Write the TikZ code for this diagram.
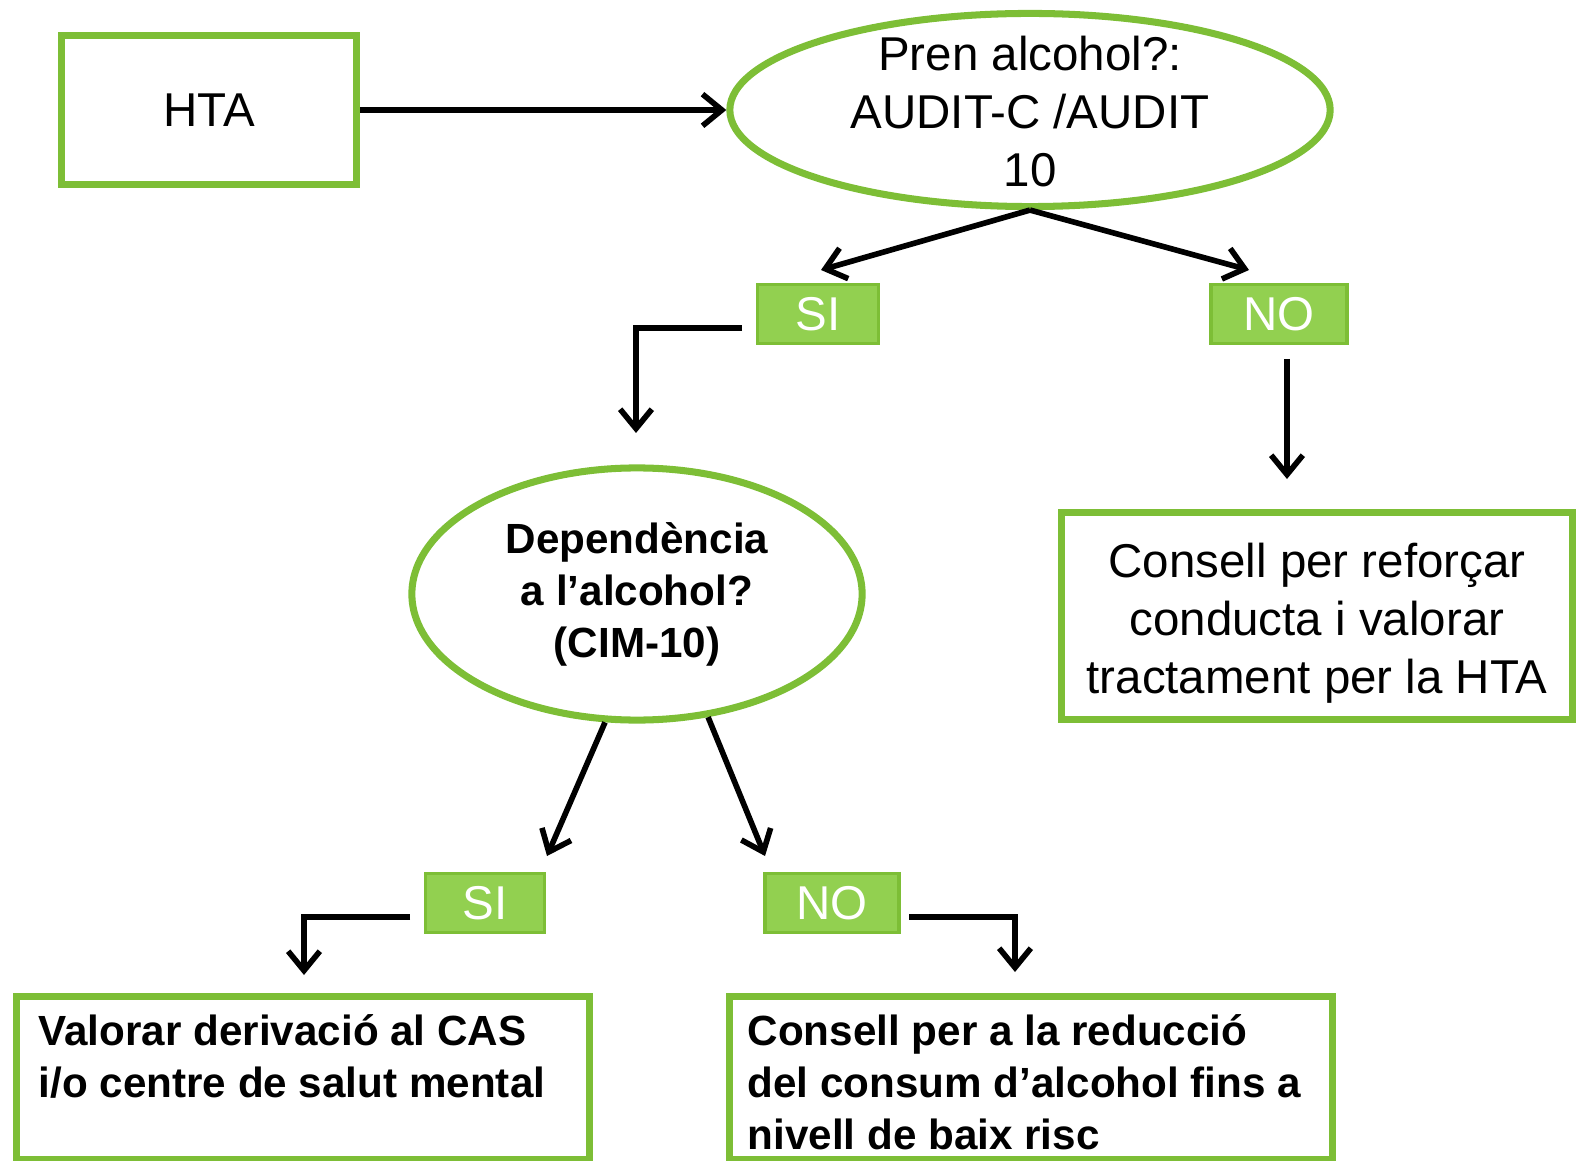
\documentclass[tikz,border=0pt]{standalone}
\usepackage{fontspec}
\setmainfont{Liberation Sans}
\usetikzlibrary{arrows.meta}
\usetikzlibrary{shapes.geometric}
\usetikzlibrary{positioning}
\definecolor{leafgreen}{HTML}{7DBE36}
\definecolor{tagfill}{HTML}{92D050}

\begin{document}
\begin{tikzpicture}[x=0.01cm, y=-0.01cm,
    box/.style={draw=leafgreen, line width=2pt, fill=white, inner sep=0pt},
    decision/.style={ellipse, draw=leafgreen, line width=2pt, inner sep=0pt},
    tag/.style={draw=leafgreen, line width=1pt, fill=tagfill, text=white, minimum height=0.59cm, inner sep=0pt},
    arr/.style={->, >={Straight Barb[length=5.5pt,width=9pt]}, line width=1.6pt},
    regular/.style={font=\fontsize{13.5}{16.5}\selectfont},
    strong/.style={font=\bfseries\fontsize{12}{14.8}\selectfont}]
        \useasboundingbox (0,0) rectangle (1579,1161);

        \node[box, regular, minimum width=2.95cm, minimum height=1.49cm] (hta) at (209,110) {HTA};
        \node[decision, minimum width=6cm, minimum height=1.93cm] (alc) at (1030,110) {};
        \node[regular, align=center] (alctxt) at ([yshift=-0.02cm]alc) {Pren alcohol?:\\AUDIT-C /AUDIT\\10};

        \node[tag, regular, minimum width=1.21cm] (si1) at (818,314) {SI};
        \node[tag, regular, minimum width=1.36cm] (no1) at (1279,314) {NO};

        \node[decision, minimum width=4.5cm, minimum height=2.52cm] (dep) at (637,594) {};
        \node[strong, align=center] (deptxt) at (dep) {Dependència\\a l’alcohol?\\(CIM-10)};
        \node[box, minimum width=5.1cm, minimum height=2.06cm] (reforc) at (1317,616) {};
        \node[regular, align=center] (reforctxt) at ([yshift=-0.07cm]reforc)
            {Consell per reforçar\\conducta i valorar\\tractament per la HTA};

        \node[tag, regular, minimum width=1.19cm] (si2) at (485,903) {SI};
        \node[tag, regular, minimum width=1.34cm] (no2) at (832,903) {NO};

        \node[box, minimum width=5.72cm, minimum height=1.63cm] (cas) at (303,1078) {};
        \node[strong, align=left, anchor=west, inner sep=0pt] (castxt) at (38,1056)
            {Valorar derivació al CAS\\i/o centre de salut mental};
        \node[box, minimum width=6.02cm, minimum height=1.63cm] (reduc) at (1031,1078) {};
        \node[strong, align=left, anchor=west, inner sep=0pt] (reductxt) at (747,1082)
            {Consell per a la reducció\\del consum d’alcohol fins a\\nivell de baix risc};

        % free ends of the connectors
        \coordinate (si1in) at (821,270);
        \coordinate (no1in) at (1249,270);
        \coordinate (si1out) at (742,328);
        \coordinate (depin) at (636,433);
        \coordinate (no1out) at (1287,359);
        \coordinate (reforcin) at (1287,479);
        \coordinate (si2in) at (547,856);
        \coordinate (no2in) at (765,856);
        \coordinate (si2out) at (410,917);
        \coordinate (casin) at (304,975);
        \coordinate (no2out) at (909,917);
        \coordinate (reducin) at (1015,972);

        \draw[arr] (hta.east) -- (alc.west);
        \draw[arr] (alc.south) -- (si1in);
        \draw[arr] (alc.south) -- (no1in);
        \draw[arr] (si1out) -| (depin);
        \draw[arr] (no1out) -- (reforcin);
        \draw[arr] (dep.-104) -- (si2in);
        \draw[arr] (dep.-60) -- (no2in);
        \draw[arr] (si2out) -| (casin);
        \draw[arr] (no2out) -| (reducin);
\end{tikzpicture}
\end{document}
